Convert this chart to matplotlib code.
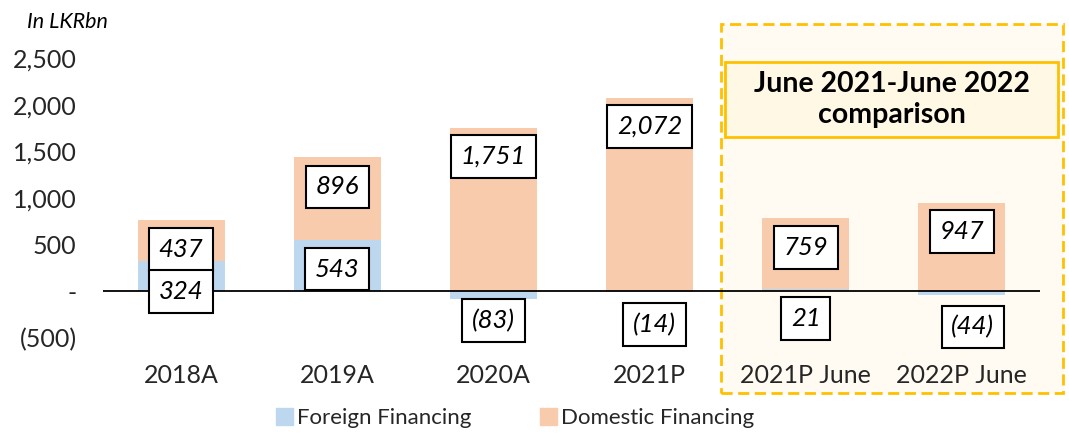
import numpy as np
import matplotlib
matplotlib.use("Agg")
import matplotlib.pyplot as plt
from matplotlib.patches import Rectangle, Patch

plt.rcParams['font.family'] = ['Lato', 'DejaVu Sans']

# data (LKR bn)
categories = ['2018A', '2019A', '2020A', '2021P', '2021P June', '2022P June']
foreign = [324, 543, -83, -14, 21, -44]
domestic = [437, 896, 1751, 2072, 759, 947]

# where each data label sits (data units)
dom_label_y = [445, 1116, 1443, 1765, 467, 638]
for_label_y = [-5, 236, -317, -360, -295, -386]
for_label_dx = [0, 0, 0, 0.03, 0, 0.07]

c_foreign = '#BDD7EE'
c_domestic = '#F8CBAD'
gold = '#FFC000'


def fmt(v):
    s = f"{abs(v):,}"
    return f"({s})" if v < 0 else s


fig = plt.figure(figsize=(10.69, 4.34), dpi=100)

# comparison panel behind the last two bars
fig.patches.append(Rectangle((721 / 1069, 41 / 434), 342 / 1069, 369 / 434,
                             transform=fig.transFigure, fc='#FFFBF2', ec=gold,
                             lw=2, ls=(0, (4, 2)), zorder=-5))

ax = fig.add_axes([103 / 1069, 96.4 / 434, 937 / 1069, 279.6 / 434])
ax.patch.set_alpha(0)

x = np.arange(len(categories))
bottoms = [max(f, 0) for f in foreign]
ax.bar(x, foreign, width=0.557, color=c_foreign, zorder=2)
ax.bar(x, domestic, width=0.557, bottom=bottoms, color=c_domestic, zorder=2)
ax.axhline(0, color='black', lw=1.3, zorder=3)

box = dict(boxstyle='square,pad=0.38', fc='white', ec='black', lw=1.5)
for i in range(len(categories)):
    ax.text(x[i], dom_label_y[i], fmt(domestic[i]), ha='center', va='center',
            fontsize=18.5, style='italic', bbox=box, zorder=5)
    ax.text(x[i] + for_label_dx[i], for_label_y[i], fmt(foreign[i]), ha='center',
            va='center', fontsize=18.5, style='italic', bbox=box, zorder=5)

ax.set_xlim(-0.5, 5.5)
ax.set_ylim(-500, 2500)
yt = list(range(-500, 2501, 500))
ax.set_yticks(yt)
ax.set_yticklabels(['-' if v == 0 else fmt(v) for v in yt])
ax.set_xticks(x)
ax.set_xticklabels(categories)
ax.tick_params(axis='y', length=0, pad=19, labelsize=18, labelcolor='#262626')
ax.tick_params(axis='x', length=0, pad=19, labelsize=18, labelcolor='#262626')
for s in ax.spines.values():
    s.set_visible(False)

fig.text(27 / 1069, (434 - 22) / 434, 'In LKRbn', style='italic', fontsize=15.5,
         ha='left', va='center')

# comparison title box
fig.patches.append(Rectangle((725 / 1069, 297 / 434), 333 / 1069, 75 / 434,
                             transform=fig.transFigure, fc='#FFF8E5', ec=gold,
                             lw=2, zorder=4))
fig.text(891.5 / 1069, (434 - 99.5) / 434, 'June 2021-June 2022\ncomparison',
         ha='center', va='center', fontsize=20.5, weight='bold', linespacing=1.2,
         zorder=6)

handles = [Patch(color=c_foreign, label='Foreign Financing'),
           Patch(color=c_domestic, label='Domestic Financing')]
fig.legend(handles=handles, loc='center', bbox_to_anchor=(515 / 1069, 16 / 434),
           ncol=2, frameon=False, fontsize=16, handlelength=0.77,
           handleheight=0.77, handletextpad=0.15, columnspacing=3.1,
           labelcolor='#262626')

fig.savefig('out.png', dpi=100)
